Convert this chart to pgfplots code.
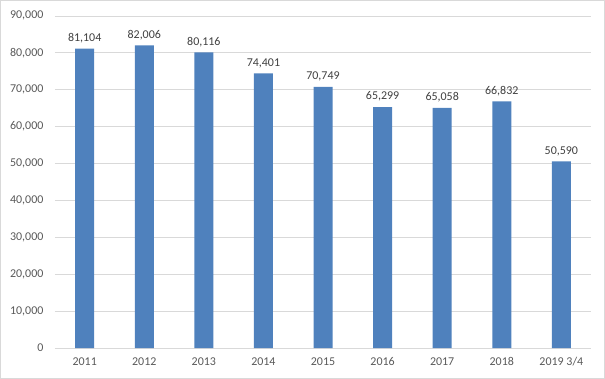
\documentclass[border=0pt]{standalone}
\usepackage{pgfplots}
\pgfplotsset{compat=1.18}
\usepackage{fontspec}
\setmainfont{Carlito}
\definecolor{barblue}{HTML}{4F81BD}
\definecolor{gridgray}{HTML}{D9D9D9}
\definecolor{ticktext}{HTML}{595959}
\definecolor{labeltext}{HTML}{404040}
\begin{document}
\begin{tikzpicture}[x=1bp,y=1bp]
\draw[draw=gridgray, line width=0.75bp] (0.5,0.5) rectangle (604.5,378.5);
\begin{axis}[
  at={(55bp,31bp)}, anchor=south west,
  scale only axis, width=536bp, height=332bp,
  xmin=-0.5, xmax=8.5, ymin=0, ymax=90000,
  ytick={0,10000,...,90000},
  xtick={0,...,8},
  xticklabels={2011,2012,2013,2014,2015,2016,2017,2018,2019 3/4},
  ymajorgrids, grid style={gridgray, line width=0.75bp},
  axis line style={draw=none},
  axis x line*=bottom, axis y line*=left,
  major tick length=0pt,
  tick label style={font=\fontsize{12}{14}\selectfont, text=ticktext},
  /pgf/number format/assume math mode=true,
  scaled y ticks=false,
  yticklabel={\pgfmathprintnumber[1000 sep={,}]{\tick}},
  yticklabel style={xshift=-8bp},
  xticklabel style={yshift=-6bp},
  nodes near coords={\pgfmathprintnumber[1000 sep={,}]{\pgfplotspointmeta}},
  nodes near coords style={font=\fontsize{12}{14}\selectfont, text=labeltext, anchor=south, yshift=2bp},
  point meta=explicit,
  clip=false,
]
\draw[gridgray, line width=0.75bp] (axis cs:-0.5,0) -- (axis cs:8.5,0);
\addplot[ybar, bar width=19bp, fill=barblue, draw=none] coordinates {
(0,81104) [81104]
(1,82006) [82006]
(2,80116) [80116]
(3,74401) [74401]
(4,70749) [70749]
(5,65299) [65299]
(6,65058) [65058]
(7,66832) [66832]
(8,50590) [50590]
};
\end{axis}
\end{tikzpicture}
\end{document}
